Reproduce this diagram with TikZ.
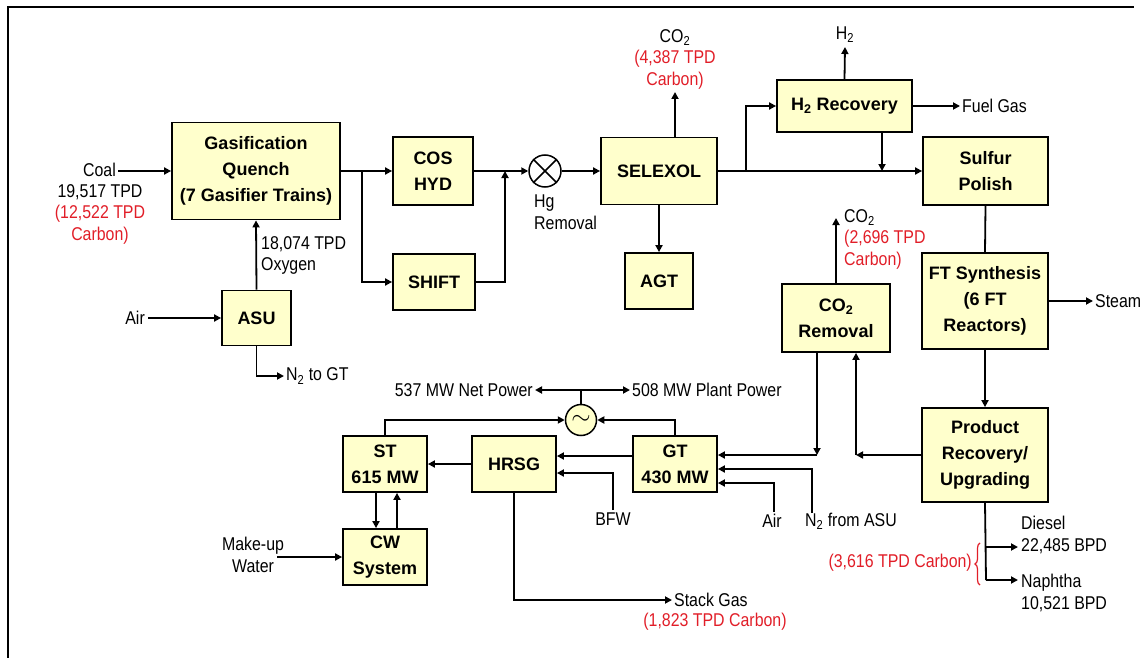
\documentclass[tikz,border=0pt]{standalone}
\usepackage{fontspec}
\setmainfont{Liberation Sans}
\newfontfamily\narrowlbl{Liberation Sans}[FakeStretch=0.86]
\usetikzlibrary{arrows.meta,decorations.pathreplacing,calc}
\definecolor{boxfill}{RGB}{255,255,204}
\definecolor{cred}{RGB}{225,30,40}
\begin{document}
\begin{tikzpicture}[x=1pt,y=-1pt,
  box/.style={draw, line width=1.8pt, fill=boxfill, align=center, inner sep=0pt,
    font=\bfseries\fontsize{18}{26}\selectfont},
  lbl/.style={inner sep=0pt, font=\narrowlbl\fontsize{18.5}{21.5}\selectfont},
  conn/.style={line width=1.8pt},
  arr/.style={conn, -{Triangle[length=7pt,width=7pt]}},
]
\useasboundingbox (0,0) rectangle (1143,658);
\draw[line width=2.4pt] (8,658) -- (8,7) -- (1134,7);

% boxes
\node[box, minimum width=168pt, minimum height=97pt] (gas) at (256,171) {Gasification\\Quench\\(7 Gasifier Trains)};
\node[box, minimum width=80pt, minimum height=68pt] (cos) at (433,171) {COS\\HYD};
\node[box, minimum width=82pt, minimum height=56pt] (shift) at (434,282) {SHIFT};
\node[draw, circle, line width=1.5pt, fill=white, minimum size=32pt, inner sep=0pt] (hg) at (545,171) {};
\draw[line width=1.5pt] (hg.north west) -- (hg.south east) (hg.north east) -- (hg.south west);
\node[box, minimum width=116pt, minimum height=67pt] (selexol) at (659,171) {SELEXOL};
\node[box, minimum width=68pt, minimum height=56pt] (agt) at (659,281) {AGT};
\node[box, minimum width=135pt, minimum height=52pt] (h2r) at (844.5,106) {H\textsubscript{2} Recovery};
\node[box, minimum width=125pt, minimum height=68pt] (sulfur) at (985.5,171) {Sulfur\\Polish};
\node[box, minimum width=126pt, minimum height=96pt] (ft) at (985,301) {FT Synthesis\\(6 FT\\Reactors)};
\node[box, minimum width=126pt, minimum height=94pt] (prod) at (985,455) {Product\\Recovery/\\Upgrading};
\node[box, minimum width=108pt, minimum height=68pt] (co2r) at (836,318) {CO\textsubscript{2}\\Removal};
\node[box, minimum width=69pt, minimum height=55pt] (asu) at (256.5,318) {ASU};
\node[box, minimum width=84pt, minimum height=56pt] (st) at (385,464) {ST\\615 MW};
\node[box, minimum width=84pt, minimum height=56pt] (hrsg) at (514,464) {HRSG};
\node[box, minimum width=84pt, minimum height=56pt] (gt) at (675,464) {GT\\430 MW};
\node[box, minimum width=84pt, minimum height=56pt] (cw) at (385,557) {CW\\System};
\node[draw, circle, line width=1.5pt, fill=boxfill, minimum size=31pt, inner sep=0pt] (gen) at (581,420) {\fontsize{24}{24}\selectfont$\sim$};

% coordinates
\coordinate (coalin) at (118,171);
\coordinate (b1) at (362,171);
\coordinate (j1) at (505,171);
\coordinate (co2a) at (675,92);
\coordinate (b2) at (746,171);
\coordinate (j2) at (882,171);
\coordinate (h2out) at (845,47);
\coordinate (fg) at (960,106);
\coordinate (steam) at (1093,301);
\coordinate (j3) at (856,455);
\coordinate (j4) at (817,455);
\coordinate (co2b) at (836,218);
\coordinate (airin) at (148,318);
\coordinate (n2gt) at (284,376);
\coordinate (gtop) at (581,390);
\coordinate (netp) at (535,390);
\coordinate (plantp) at (630,390);
\coordinate (n2a) at (812,513);
\coordinate (air2) at (774,512);
\coordinate (bfw) at (613,510);
\coordinate (mw) at (277,557);
\coordinate (stack) at (672,600);
\coordinate (pb) at (986,580);
\coordinate (dsl) at (1018,547);
\coordinate (nap) at (1018,580);

% connectors
\draw[arr] (coalin) -- (gas.west);
\draw[arr] (gas.east) -- (cos.west);
\draw[arr] (b1) |- (shift.west);
\draw[arr] (cos.east) -- (hg.west);
\draw[arr] (shift.east) -| (j1);
\draw[arr] (hg.east) -- (selexol.west);
\draw[arr] (selexol.south) -- (agt.north);
\draw[arr] (co2a |- selexol.north) -- (co2a);
\draw[arr] (selexol.east) -- (sulfur.west);
\draw[arr] (b2) |- (h2r.west);
\draw[arr] (j2 |- h2r.south) -- (j2);
\draw[arr] (h2r.north) -- (h2out);
\draw[arr] (h2r.east) -- (fg);
\draw[conn] (sulfur.south) -- (ft.north);
\draw[arr] (ft.east) -- (steam);
\draw[arr] (ft.south) -- (prod.north);
\draw[arr] (prod.west) -- (j3);
\draw[arr] (j3) -- (j3 |- co2r.south);
\draw[arr] (j4 |- co2r.south) -- (j4);
\draw[arr] (j4) -- ([yshift=9pt]gt.east);
\draw[arr] (co2r.north) -- (co2b);
\draw[arr] (airin) -- (asu.west);
\draw[arr] (asu.north) -- (gas.south);
\draw[arr] (asu.south) |- (n2gt);
\draw[conn] (gen.north) -- (gtop);
\draw[arr] (gtop) -- (netp);
\draw[arr] (gtop) -- (plantp);
\draw[arr] (st.north) |- (gen.west);
\draw[arr] (gt.north) |- (gen.east);
\draw[arr] (hrsg.west) -- (st.east);
\draw[arr] ([yshift=8pt]gt.west) -- ([yshift=8pt]hrsg.east);
\draw[arr] (bfw) |- ([yshift=-9pt]hrsg.east);
\draw[arr] (n2a) |- ([yshift=-5pt]gt.east);
\draw[arr] (air2) |- ([yshift=-19pt]gt.east);
\draw[arr] ([xshift=-9pt]st.south) -- ([xshift=-9pt]cw.north);
\draw[arr] ([xshift=12pt]cw.north) -- ([xshift=12pt]st.south);
\draw[arr] (mw) -- (cw.west);
\draw[arr] (hrsg.south) |- (stack);
\draw[conn] (prod.south) -- (pb);
\draw[arr] (prod.south |- dsl) -- (dsl);
\draw[arr] (pb) -- (nap);

% labels
\node[lbl, anchor=east] (lcoal) at (116,170) {Coal};
\node[lbl, align=center] (lcoal2) at (100,214) {19,517 TPD\\\textcolor{cred}{(12,522 TPD}\\\textcolor{cred}{Carbon)}};
\node[lbl, align=center] (lco2a) at (675,59) {CO\textsubscript{2}\\\textcolor{cred}{(4,387 TPD}\\\textcolor{cred}{Carbon)}};
\node[lbl, align=left, anchor=west] (lox) at (261,255.5) {18,074 TPD\\Oxygen};
\node[lbl, anchor=west] (ln2gt) at (286,376) {N\textsubscript{2} to GT};
\node[lbl, anchor=east] (lair) at (145,318) {Air};
\node[lbl, align=left, anchor=west] (lhg) at (534,212) {Hg\\Removal};
\node[lbl] (lh2) at (845,35) {H\textsubscript{2}};
\node[lbl, anchor=west] (lfg) at (962,106) {Fuel Gas};
\node[lbl, align=left, anchor=west] (lco2b) at (844,239) {CO\textsubscript{2}\\\textcolor{cred}{(2,696 TPD}\\\textcolor{cred}{Carbon)}};
\node[lbl, anchor=west] (lsteam) at (1095,301) {Steam};
\node[lbl, anchor=east] (lnet) at (533,390) {537 MW Net Power};
\node[lbl, anchor=west] (lplant) at (632,390) {508 MW Plant Power};
\node[lbl, align=center] (lmw) at (253,555) {Make-up\\Water};
\node[lbl] (lbfw) at (613,519) {BFW};
\node[lbl] (lair2) at (772,521) {Air};
\node[lbl, anchor=west] (ln2a) at (805,521) {N\textsubscript{2} from ASU};
\node[lbl, anchor=west] (lstack) at (674,600) {Stack Gas};
\node[lbl, text=cred] (lstackc) at (715,622) {(1,823 TPD Carbon)};
\node[lbl, align=left, anchor=west] (ldsl) at (1021,535) {Diesel\\22,485 BPD};
\node[lbl, align=left, anchor=west] (lnap) at (1021,593) {Naphtha\\10,521 BPD};
\node[lbl, text=cred, anchor=east] (lprodc) at (972,563) {(3,616 TPD Carbon)};
\draw[cred, line width=1.2pt, decorate, decoration={brace, amplitude=5pt}] (980,585) -- (980,543);
\end{tikzpicture}
\end{document}
